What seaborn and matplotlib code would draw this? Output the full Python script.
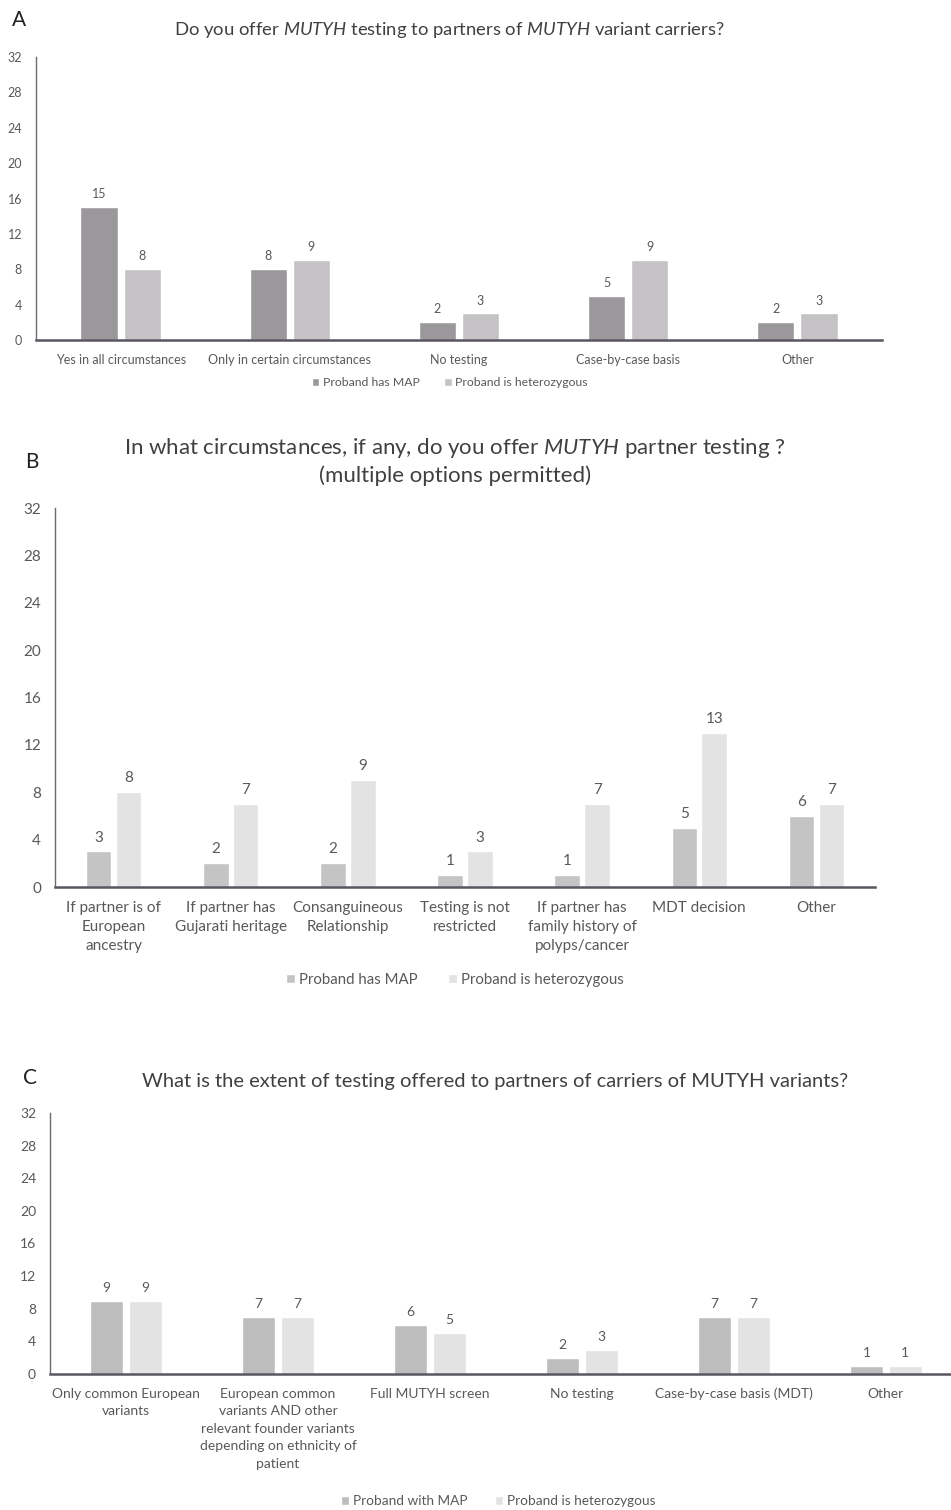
import matplotlib
matplotlib.use("Agg")
import matplotlib.pyplot as plt
import seaborn as sns
import pandas as pd

# ---- data ----
cats_a = ['Yes in all circumstances', 'Only in certain circumstances', 'No testing',
          'Case-by-case basis', 'Other']
map_a = [15, 8, 2, 5, 2]
het_a = [8, 9, 3, 9, 3]
series_a = ['Proband has MAP', 'Proband is heterozygous']

cats_b = ['If partner is of\nEuropean\nancestry', 'If partner has\nGujarati heritage',
          'Consanguineous\nRelationship', 'Testing is not\nrestricted',
          'If partner has\nfamily history of\npolyps/cancer', 'MDT decision', 'Other']
map_b = [3, 2, 2, 1, 1, 5, 6]
het_b = [8, 7, 9, 3, 7, 13, 7]
series_b = ['Proband has MAP', 'Proband is heterozygous']

cats_c = ['Only common European\nvariants',
          'European common\nvariants AND other\nrelevant founder variants\ndepending on ethnicity of\npatient',
          'Full MUTYH screen', 'No testing', 'Case-by-case basis (MDT)', 'Other']
map_c = [9, 7, 6, 2, 7, 1]
het_c = [9, 7, 5, 3, 7, 1]
series_c = ['Proband with MAP', 'Proband is heterozygous']

yticks = [0, 4, 8, 12, 16, 20, 24, 28, 32]

sns.set_theme(style='white')
plt.rcParams['font.family'] = ['Lato', 'DejaVu Sans']
plt.rcParams['mathtext.fontset'] = 'custom'
plt.rcParams['mathtext.it'] = 'Lato:italic'
plt.rcParams['mathtext.rm'] = 'Lato'

txt = '#595959'

fig = plt.figure(figsize=(9.51, 15.1), dpi=100)


def long_df(cats, s1, s2, names):
    return pd.DataFrame({
        'cat': cats + cats,
        'val': s1 + s2,
        'series': [names[0]] * len(cats) + [names[1]] * len(cats),
    })


def panel(rect, cats, s1, s2, names, colors, tick_fs, lab_fs, leg_xy, leg_fs, lsp):
    ax = fig.add_axes(rect)
    df = long_df(cats, s1, s2, names)
    sns.barplot(data=df, x='cat', y='val', hue='series', palette=colors,
                width=0.51, gap=0.14, ax=ax, legend=True)
    for c in ax.containers:
        ax.bar_label(c, padding=5, fontsize=lab_fs, color=txt)
    ax.set_ylim(0, 32)
    ax.set_yticks(yticks)
    ax.set_xlabel('')
    ax.set_ylabel('')
    ax.tick_params(axis='both', length=0, labelsize=tick_fs, colors=txt)
    ax.tick_params(axis='x', pad=10)
    ax.tick_params(axis='y', pad=10)
    for lab in ax.get_xticklabels():
        lab.set_linespacing(lsp)
    for s in ['top', 'right']:
        ax.spines[s].set_visible(False)
    ax.spines['left'].set_color('#6f6a70')
    ax.spines['left'].set_linewidth(1.0)
    ax.spines['bottom'].set_color('#5a5560')
    ax.spines['bottom'].set_linewidth(1.8)
    h, l = ax.get_legend_handles_labels()
    ax.legend_.remove()
    fig.legend(h, l, loc='center', bbox_to_anchor=(leg_xy[0] / 951, 1 - leg_xy[1] / 1510), ncol=2,
               frameon=False, handlelength=0.6, handleheight=0.6, handletextpad=0.3,
               columnspacing=2.0, fontsize=leg_fs, labelcolor=txt)
    return ax


# A
ax_a = panel([36 / 951, 1 - 340 / 1510, 846 / 951, 283 / 1510], cats_a, map_a, het_a,
             series_a, ['#9b989b', '#c4c2c4'], 9, 9, (450, 383), 8.8, 1.3)
fig.text(449 / 951, 1 - 30 / 1510, r'Do you offer $\it{MUTYH}$ testing to partners of $\it{MUTYH}$ variant carriers?',
         ha='center', va='center', fontsize=13.3, color='#404040')
fig.text(12 / 951, 1 - 20 / 1510, 'A', ha='left', va='center', fontsize=15, color='#222222')

# B
ax_b = panel([55 / 951, 1 - 887 / 1510, 820 / 951, 379 / 1510], cats_b, map_b, het_b,
             series_b, ['#c4c4c4', '#e3e3e3'], 11, 11, (455, 980), 10.8, 1.45)
fig.text(455 / 951, 1 - 461 / 1510,
         'In what circumstances, if any, do you offer $\\it{MUTYH}$ partner testing ?\n(multiple options permitted)',
         ha='center', va='center', fontsize=16, color='#404040', linespacing=1.3)
fig.text(25 / 951, 1 - 462 / 1510, 'B', ha='left', va='center', fontsize=15, color='#222222')

# C
ax_c = panel([50 / 951, 1 - 1374 / 1510, 912 / 951, 261 / 1510], cats_c, map_c, het_c,
             series_c, ['#bdbdbd', '#e3e3e3'], 10, 10, (498, 1501), 9.8, 1.55)
fig.text(495 / 951, 1 - 1082 / 1510, 'What is the extent of testing offered to partners of carriers of MUTYH variants?',
         ha='center', va='center', fontsize=14.5, color='#404040')
fig.text(23 / 951, 1 - 1078 / 1510, 'C', ha='left', va='center', fontsize=15, color='#222222')

fig.savefig('out.png', dpi=100, facecolor='white')
